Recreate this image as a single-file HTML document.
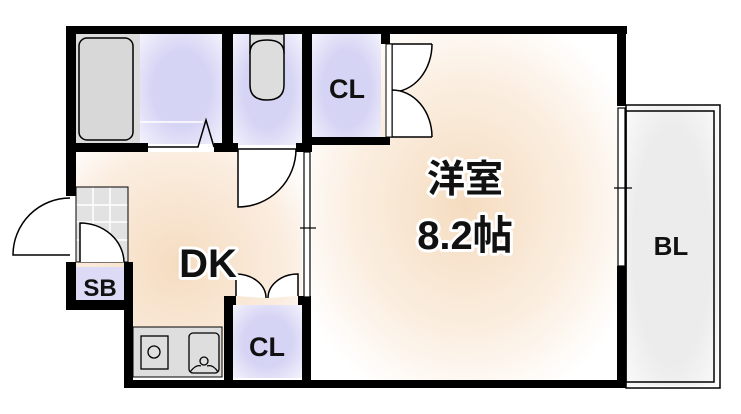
<!DOCTYPE html>
<html><head><meta charset="utf-8"><style>
html,body{margin:0;padding:0;background:#fff;}
svg{display:block;}
text{font-family:"Liberation Sans","Noto Sans CJK JP",sans-serif;font-weight:bold;fill:#111;}
</style></head><body>
<svg width="741" height="414" viewBox="0 0 741 414" xmlns="http://www.w3.org/2000/svg">
<defs>
<radialGradient id="fl" cx="0.5" cy="0.5" r="0.6">
<stop offset="0" stop-color="#f5dcc0"/><stop offset="0.6" stop-color="#fbeee0"/><stop offset="1" stop-color="#ffffff"/>
</radialGradient>
<radialGradient id="fl2" cx="0.45" cy="0.5" r="0.7">
<stop offset="0" stop-color="#f5dcc0"/><stop offset="0.7" stop-color="#fbede0"/><stop offset="1" stop-color="#fff"/>
</radialGradient>
<radialGradient id="pu" cx="0.5" cy="0.5" r="0.7">
<stop offset="0.5" stop-color="#d6d4f4"/><stop offset="1" stop-color="#f3f2fc"/>
</radialGradient>
<radialGradient id="gy" cx="0.5" cy="0.5" r="0.7">
<stop offset="0.6" stop-color="#ececec"/><stop offset="1" stop-color="#fafafa"/>
</radialGradient>
</defs>
<!-- floors -->
<rect x="312" y="34" width="306" height="346" fill="url(#fl)"/>
<path d="M76 152 L302 152 L302 377 L133 377 L133 310 L76 310 Z" fill="url(#fl2)"/>
<rect x="140" y="34" width="83" height="110" fill="url(#pu)"/>
<rect x="233" y="34" width="69" height="111" fill="url(#pu)"/>
<rect x="312" y="34" width="69" height="110" fill="url(#pu)"/>
<rect x="233" y="305" width="69" height="73" fill="url(#pu)"/>
<rect x="626" y="106" width="92" height="280" fill="url(#gy)"/>
<!-- bath -->
<rect x="76" y="34" width="64" height="110" fill="#dcdcdc"/>
<rect x="79" y="38" width="54" height="102" rx="8" fill="#d8d8d8" stroke="#000" stroke-width="1.5"/>
<polyline points="140,122 203,122" stroke="#fff" stroke-width="1.5" fill="none"/>
<polyline points="148,147 198,147 206,120 214,147" stroke="#000" stroke-width="1.5" fill="none"/>
<!-- toilet -->
<rect x="250" y="34" width="34" height="19" fill="#ddd" stroke="#000" stroke-width="1.5"/>
<path d="M250 53 Q250 40 267 40 Q284 40 284 53 L284 85 Q284 100 267 100 Q250 100 250 85 Z" fill="#ddd" stroke="#000" stroke-width="1.5"/>
<!-- SB tile area -->
<rect x="76" y="187" width="52" height="75" fill="#e2e2e2"/>
<g stroke="#fff" stroke-width="1.5"><line x1="93" y1="187" x2="93" y2="262"/><line x1="110" y1="187" x2="110" y2="262"/><line x1="76" y1="205" x2="128" y2="205"/><line x1="76" y1="222" x2="128" y2="222"/><line x1="76" y1="240" x2="128" y2="240"/></g>
<rect x="76" y="187" width="52" height="75" fill="none" stroke="#000" stroke-width="1"/>
<!-- kitchen -->
<rect x="133" y="327" width="89" height="50" fill="#dedede" stroke="#000" stroke-width="1"/>
<rect x="141" y="336" width="27" height="33" fill="none" stroke="#000" stroke-width="1.3"/>
<circle cx="154" cy="352" r="6" fill="none" stroke="#000" stroke-width="1.3"/>
<rect x="189" y="333" width="30" height="40" rx="4" fill="none" stroke="#000" stroke-width="1.3"/>
<circle cx="204" cy="361" r="4" fill="none" stroke="#000" stroke-width="1.3"/>
<path d="M190 372 Q196 364 201 366 M207 366 Q213 364 218 372" fill="none" stroke="#000" stroke-width="1.2"/>
<!-- walls -->
<g fill="#000">
<rect x="66" y="26" width="561" height="8"/>
<rect x="66" y="26" width="10" height="170"/>
<rect x="66" y="143" width="82" height="9"/>
<rect x="214" y="143" width="24" height="9"/>
<rect x="222" y="26" width="11" height="126"/>
<rect x="296" y="143" width="16" height="9"/>
<rect x="302" y="26" width="10" height="126"/>
<rect x="381" y="26" width="9" height="18"/>
<rect x="381" y="137" width="9" height="8"/>
<rect x="312" y="137" width="78" height="8"/>
<rect x="617" y="26" width="9" height="80"/>
<rect x="617" y="266" width="9" height="122"/>
<rect x="124" y="380" width="502" height="8"/>
<rect x="66" y="262" width="10" height="48"/>
<rect x="66" y="300" width="67" height="10"/>
<rect x="124" y="262" width="9" height="126"/>
<rect x="224" y="300" width="9" height="88"/>
<rect x="224" y="296" width="12" height="9"/>
<rect x="298" y="296" width="13" height="9"/>
<rect x="302" y="296" width="9" height="92"/>
</g>
<rect x="76" y="267" width="48" height="33" fill="#dcdaf4"/>
<!-- CL doors top -->
<g fill="#fff" stroke="#000" stroke-width="1.5">
<path d="M390 44 L432 44 M392 44 L392 92 A 40 48 0 0 0 432 44"/>
<path d="M390 137 L432 137 M392 137 L392 90 A 40 47 0 0 1 432 137"/>
</g>
<rect x="386" y="44" width="6" height="93" fill="#fff" stroke="#000" stroke-width="1"/>
<!-- toilet door -->
<path d="M238 149 L238 207 A 58 58 0 0 0 296 149 Z" fill="#fff" stroke="#000" stroke-width="1.5"/>
<!-- sliding partition -->
<rect x="304" y="152" width="6" height="145" fill="#fff" stroke="#000" stroke-width="1.2"/>
<line x1="300" y1="228" x2="316" y2="228" stroke="#000" stroke-width="1.2"/>
<!-- lower CL doors -->
<g fill="#fff" stroke="#000" stroke-width="1.5">
<path d="M236 296 L236 274 A 30 24 0 0 1 266 298"/>
<path d="M298 296 L298 274 A 30 24 0 0 0 268 298"/>
</g>
<!-- SB doors -->
<path d="M70 198 A 57 57 0 0 0 13 255 L70 255" fill="#fff" stroke="#000" stroke-width="1.5"/>
<path d="M80 262 L80 223 A 44 40 0 0 1 124 262" fill="#fff" stroke="#000" stroke-width="1.5"/>
<!-- window -->
<rect x="618" y="108" width="7" height="158" fill="#fff" stroke="#000" stroke-width="1.2"/>
<line x1="614" y1="188" x2="632" y2="188" stroke="#000" stroke-width="1.2"/>
<!-- balcony -->
<rect x="626" y="105" width="94" height="283" fill="none" stroke="#000" stroke-width="1.5"/>
<rect x="626" y="111" width="88" height="271" fill="none" stroke="#000" stroke-width="1.5"/>
<!-- labels -->
<g stroke="#fff" stroke-width="6" paint-order="stroke" stroke-linejoin="round">
<text x="465" y="192" font-size="38" text-anchor="middle">洋室</text>
<text x="465" y="249" font-size="40" text-anchor="middle">8.2帖</text>
<text x="208" y="277" font-size="40" text-anchor="middle">DK</text>
</g>
<text x="347" y="98" font-size="27" text-anchor="middle">CL</text>
<text x="267" y="356" font-size="27" text-anchor="middle">CL</text>
<text x="100" y="296" font-size="24" text-anchor="middle">SB</text>
<text x="671" y="255" font-size="26" text-anchor="middle">BL</text>
</svg>
</body></html>
